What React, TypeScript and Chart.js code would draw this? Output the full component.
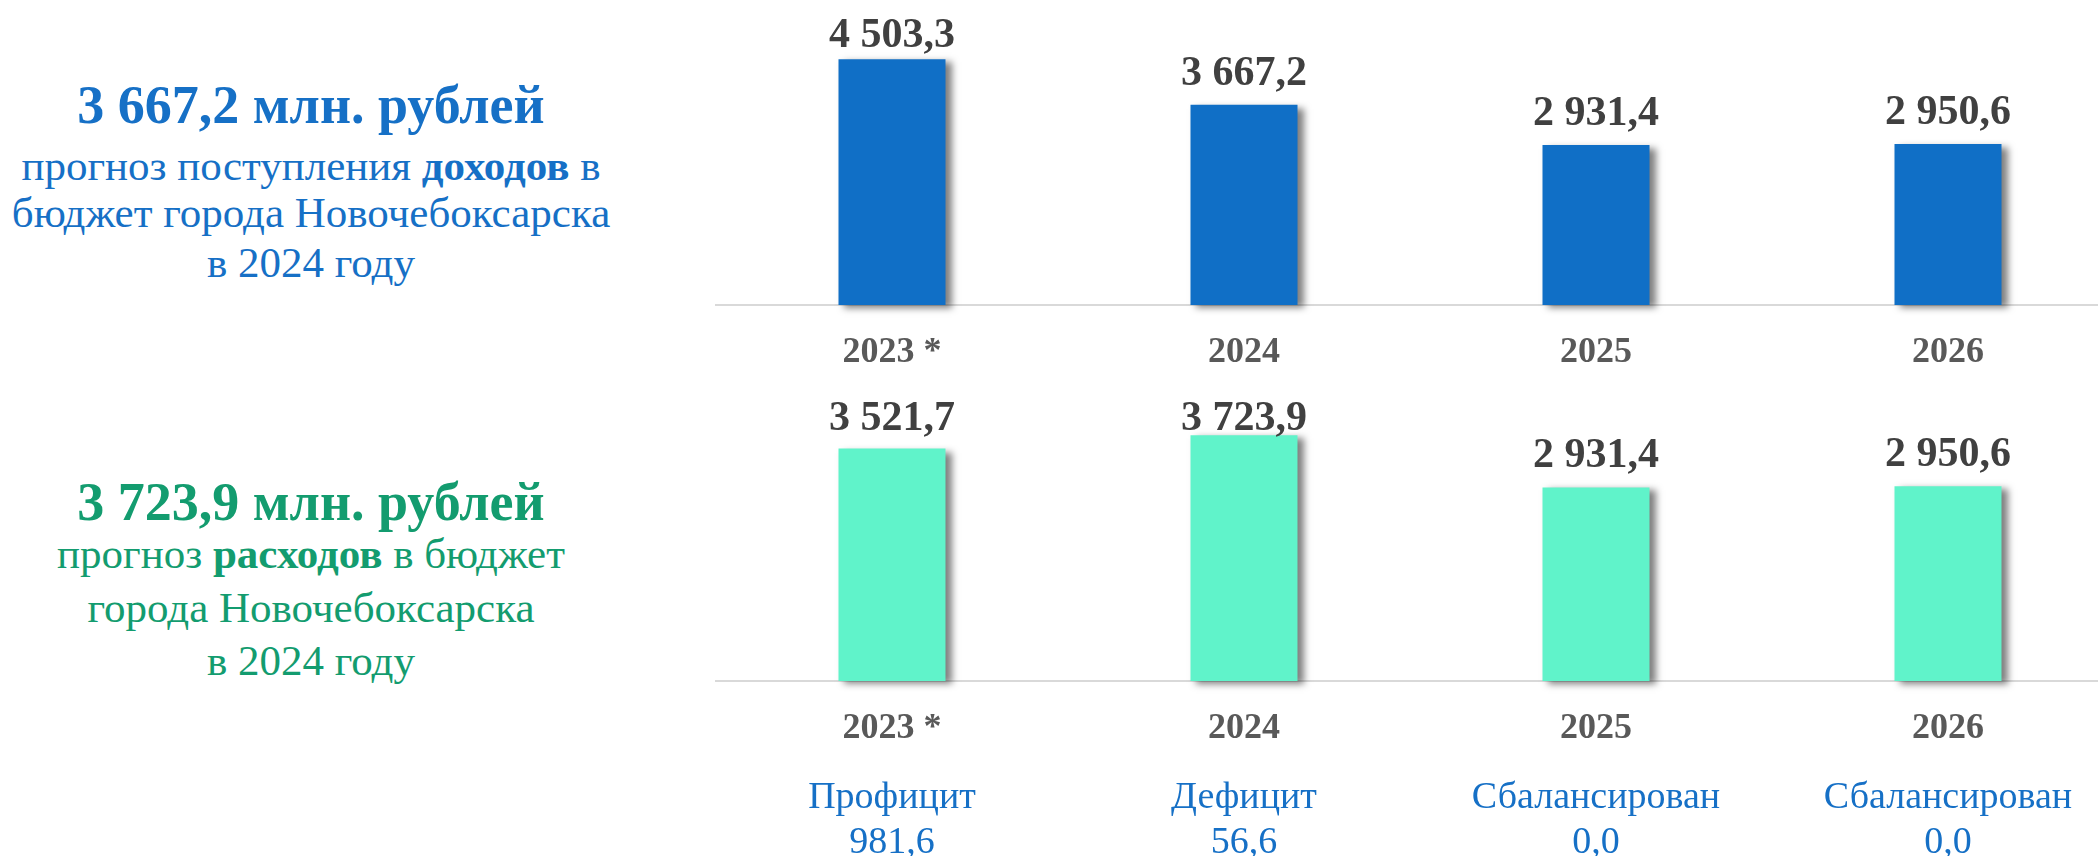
import React, { useEffect, useRef } from 'react';
import { Chart, registerables } from 'chart.js';

Chart.register(...registerables);

// ---- data ----
const categories = ['2023 *', '2024', '2025', '2026'];
const incomeValues = [4503.3, 3667.2, 2931.4, 2950.6];
const expenseValues = [3521.7, 3723.9, 2931.4, 2950.6];
const balanceLabels = ['Профицит', 'Дефицит', 'Сбалансирован', 'Сбалансирован'];
const balanceValues = [981.6, 56.6, 0.0, 0.0];

const SERIF = '"Liberation Serif", "Times New Roman", serif';
const BLUE = '#106fc6';
const MINT = '#60f3ca';
const GREEN = '#139c6f';
const TEXT_BLUE = '#1670c6';

function fmt(v: number): string {
  const [i, d] = v.toFixed(1).split('.');
  return i.replace(/\B(?=(\d{3})+(?!\d))/g, ' ') + ',' + d;
}

const shadowPlugin = {
  id: 'barShadow',
  beforeDatasetsDraw(chart: any) {
    const ctx = chart.ctx;
    ctx.save();
    ctx.shadowColor = 'rgba(0,0,0,0.5)';
    ctx.shadowBlur = 7;
    ctx.shadowOffsetX = 6;
    ctx.shadowOffsetY = 3;
  },
  afterDatasetsDraw(chart: any) {
    chart.ctx.restore();
  },
};

const valueLabelPlugin = {
  id: 'valueLabels',
  afterDatasetsDraw(chart: any, _args: any, opts: any) {
    const ctx = chart.ctx;
    const meta = chart.getDatasetMeta(0);
    const data = chart.data.datasets[0].data as number[];
    ctx.save();
    ctx.font = `bold 42px ${SERIF}`;
    ctx.fillStyle = '#404040';
    ctx.textAlign = 'center';
    ctx.textBaseline = 'alphabetic';
    meta.data.forEach((bar: any, i: number) => {
      const y = Math.max(bar.y - 20, chart.chartArea.top + (opts.minBaseline ?? 37));
      ctx.fillText(fmt(data[i]), bar.x, y);
    });
    ctx.restore();
  },
};

const balancePlugin = {
  id: 'balanceNotes',
  afterDraw(chart: any) {
    const ctx = chart.ctx;
    const xs = chart.scales.x;
    const base = chart.chartArea.bottom;
    ctx.save();
    ctx.font = `38px ${SERIF}`;
    ctx.fillStyle = TEXT_BLUE;
    ctx.textAlign = 'center';
    ctx.textBaseline = 'alphabetic';
    balanceLabels.forEach((lab, i) => {
      const x = xs.getPixelForValue(i);
      ctx.fillText(lab, x, base + 127);
      ctx.fillText(fmt(balanceValues[i]), x, base + 172);
    });
    ctx.restore();
  },
};

function makeConfig(values: number[], color: string, padBottom: number, minBaseline: number, extra: any[]): any {
  return {
    type: 'bar',
    data: {
      labels: categories,
      datasets: [
        {
          data: values,
          backgroundColor: color,
          borderWidth: 0,
          barPercentage: 0.304,
          categoryPercentage: 1,
          clip: false,
        },
      ],
    },
    options: {
      animation: false,
      responsive: false,
      devicePixelRatio: 1,
      layout: { padding: { left: 16, right: 0, top: 10, bottom: padBottom } },
      plugins: {
        legend: { display: false },
        tooltip: { enabled: false },
        valueLabels: { minBaseline },
      },
      scales: {
        x: {
          grid: { display: false, drawTicks: false },
          border: { display: true, color: '#d9d9d9', width: 2 },
          ticks: {
            color: '#595959',
            font: { family: SERIF, size: 36, weight: 'bold' },
            padding: 26,
            maxRotation: 0,
            autoSkip: false,
          },
          afterFit: (s: any) => {
            s.height = 75;
          },
        },
        y: { display: false, min: 0, max: Math.max(...values) * 1.2 },
      },
    },
    plugins: [shadowPlugin, valueLabelPlugin, ...extra],
  };
}

function BarCanvas(props: { values: number[]; color: string; top: number; height: number; minBaseline: number; notes?: boolean }) {
  const ref = useRef<HTMLCanvasElement | null>(null);
  useEffect(() => {
    if (!ref.current) return;
    const padBottom = props.height - 305 - 75;
    const chart = new Chart(ref.current, makeConfig(props.values, props.color, padBottom, props.minBaseline, props.notes ? [balancePlugin] : []));
    return () => chart.destroy();
  }, []);
  return (
    <canvas
      ref={ref}
      width={1424}
      height={props.height}
      style={{ position: 'absolute', left: 700, top: props.top, width: 1424, height: props.height }}
    />
  );
}

function Line(props: { top: number; size: number; bold?: boolean; color: string; children: any }) {
  return (
    <div
      style={{
        position: 'absolute',
        left: 0,
        width: 622,
        top: props.top,
        textAlign: 'center',
        fontFamily: SERIF,
        fontSize: props.size,
        lineHeight: `${props.size}px`,
        fontWeight: props.bold ? 'bold' : 'normal',
        color: props.color,
        whiteSpace: 'nowrap',
      }}
    >
      {props.children}
    </div>
  );
}

export default function App() {
  return (
    <div style={{ position: 'fixed', left: 0, top: 0, width: 2098, height: 856, overflow: 'hidden', background: '#fff' }}>
      <Line top={78} size={54} bold color={TEXT_BLUE}>{fmt(incomeValues[1])} млн. рублей</Line>
      <Line top={144.4} size={43} color={TEXT_BLUE}>прогноз поступления <b>доходов</b> в</Line>
      <Line top={190.6} size={43} color={TEXT_BLUE}>бюджет города Новочебоксарска</Line>
      <Line top={240.6} size={43} color={TEXT_BLUE}>в 2024 году</Line>

      <Line top={474.6} size={54} bold color={GREEN}>{fmt(expenseValues[1])} млн. рублей</Line>
      <Line top={532.2} size={43} color={GREEN}>прогноз <b>расходов</b> в бюджет</Line>
      <Line top={585.9} size={43} color={GREEN}>города Новочебоксарска</Line>
      <Line top={638.6} size={43} color={GREEN}>в 2024 году</Line>

      <BarCanvas values={incomeValues} color={BLUE} top={0} height={400} minBaseline={37} />
      <BarCanvas values={expenseValues} color={MINT} top={376} height={480} minBaseline={44} notes />
    </div>
  );
}
